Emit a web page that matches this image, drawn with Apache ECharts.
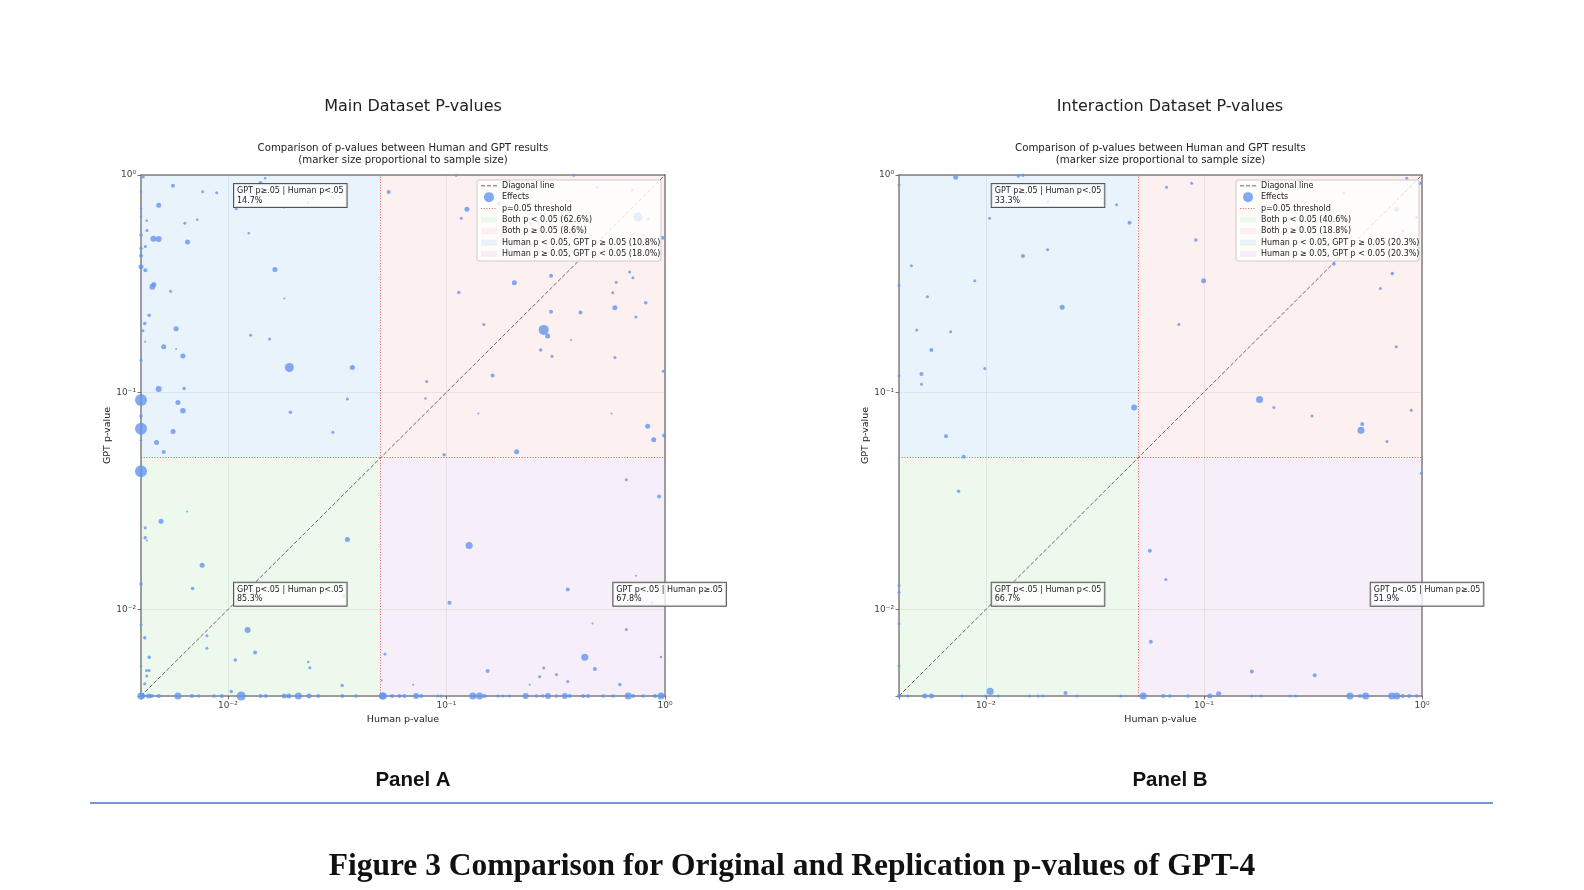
<!DOCTYPE html>
<html><head><meta charset="utf-8">
<script src="https://cdn.jsdelivr.net/npm/echarts@6/dist/echarts.min.js"></script>
<style>html,body{margin:0;padding:0;background:#fff}#c{width:1584px;height:890px}</style>
</head><body><div id="c"></div>
<script>
// ---------------- data ----------------
const P_THRESHOLD = 0.05;
const AXIS_MIN = 0.004, AXIS_MAX = 1;
const tickValues = [0.01, 0.1, 1];
const tickLabels = ['10⁻²', '10⁻¹', '10⁰'];

const panelTitles = ['Main Dataset P-values', 'Interaction Dataset P-values'];
const subTitle = 'Comparison of p-values between Human and GPT results\n(marker size proportional to sample size)';
const panelNames = ['Panel A', 'Panel B'];
const caption = 'Figure 3 Comparison for Original and Replication p-values of GPT-4';

// [human p, GPT p, sample size]
const mainPoints = [
[0.0041,0.979,36],[0.0056,0.893,64],[0.00766,0.838,36],[0.00888,0.829,36],[0.0141,0.919,64],[0.0148,0.966,25],
[0.00482,0.726,100],[0.0109,0.700,36],[0.0181,0.712,36],[0.0233,0.749,36],[0.0245,0.781,36],[0.0301,0.789,36],
[0.00425,0.616,25],[0.00635,0.599,36],[0.00723,0.622,25],[0.00426,0.556,36],[0.004,0.529,49],[0.00456,0.509,144],
[0.00482,0.507,144],[0.01245,0.540,25],[0.00653,0.491,100],[0.004,0.459,49],[0.00419,0.469,36],[0.004,0.425,64],
[0.004,0.378,100],[0.00419,0.364,64],[0.0164,0.367,100],[0.00458,0.313,100],[0.00451,0.306,144],[0.00546,0.292,36],
[0.0181,0.270,16],[0.00436,0.226,49],[0.00416,0.207,49],[0.00408,0.192,36],[0.00579,0.196,100],[0.00418,0.171,16],
[0.0127,0.183,36],[0.0155,0.176,36],[0.00508,0.162,100],[0.00579,0.158,16],[0.00622,0.147,100],[0.0191,0.130,324],
[0.0371,0.130,100],[0.004,0.1404,36],[0.00482,0.1036,144],[0.0063,0.104,49],[0.004,0.0922,576],[0.0059,0.0897,100],
[0.0352,0.0931,36],[0.00622,0.0823,121],[0.0193,0.0809,49],[0.004,0.0778,49],[0.004,0.068,576],[0.00561,0.0659,100],
[0.0302,0.0654,36],[0.00471,0.0588,100],[0.00508,0.0531,64],[0.004,0.838,25],[0.004,0.702,25],[0.004,0.642,25],
[0.004,0.0601,25],
[0.004,0.0433,576],[0.0065,0.0283,16],[0.00494,0.0255,100],[0.00418,0.0238,36],[0.00418,0.0214,49],[0.00426,0.0208,16],
[0.0352,0.0210,100],[0.00762,0.016,100],[0.004,0.0131,49],[0.00689,0.0125,49],[0.0338,0.01156,49],[0.004,0.0085,36],
[0.00416,0.00741,49],[0.0123,0.00806,144],[0.00801,0.00757,36],[0.00801,0.00664,36],[0.0133,0.00634,64],[0.00436,0.00603,49],
[0.0108,0.00586,49],[0.0233,0.00574,25],[0.0237,0.0054,36],[0.00424,0.00524,36],[0.00436,0.00524,36],[0.004,0.00548,25],
[0.00425,0.00495,36],[0.00416,0.00455,36],[0.0333,0.00447,49],[0.01035,0.0042,49],[0.0505,0.00471,16],
[0.004,0.004,200],[0.00407,0.004,100],[0.00434,0.004,100],[0.00448,0.004,64],[0.00482,0.004,64],[0.0059,0.004,200],
[0.00684,0.004,64],[0.00736,0.004,49],[0.00863,0.004,49],[0.00938,0.004,64],[0.0115,0.004,324],[0.0141,0.004,64],
[0.0149,0.004,64],[0.0181,0.004,100],[0.0190,0.004,100],[0.0210,0.004,200],[0.0235,0.004,100],[0.0259,0.004,64],
[0.0334,0.004,64],[0.0385,0.004,49],[0.0509,0.004,200],
[0.0544,0.835,64],[0.1108,0.997,36],[0.3825,0.997,36],[0.124,0.695,100],[0.1168,0.632,36],[0.1745,0.741,64],
[0.752,0.640,324],[0.489,0.878,36],[0.708,0.853,36],[0.838,0.627,36],[0.976,0.514,64],[0.795,0.529,25],
[0.243,0.597,49],[0.301,0.3435,64],[0.2045,0.319,100],[0.1139,0.288,49],[0.689,0.358,36],[0.713,0.3364,36],
[0.598,0.321,36],[0.577,0.287,36],[0.816,0.258,49],[0.301,0.2345,64],[0.4105,0.233,64],[0.590,0.2446,100],
[0.1483,0.205,36],[0.2786,0.1937,400],[0.2905,0.1817,100],[0.736,0.2223,36],[0.3716,0.1738,16],[0.270,0.1567,49],
[0.304,0.1465,36],[0.590,0.1444,36],[0.982,0.125,36],[0.1626,0.1194,64],[0.0812,0.112,36],[0.0801,0.0935,25],
[0.140,0.0798,16],[0.569,0.0798,16],[0.833,0.0697,100],[0.888,0.0605,100],[0.99,0.0633,64],[0.0976,0.0516,49],
[0.2094,0.0533,100],
[0.665,0.0396,36],[0.939,0.0331,64],[0.127,0.0197,200],[0.736,0.0143,16],[0.359,0.01236,64],[0.1032,0.01074,64],
[0.872,0.0108,36],[0.466,0.00862,16],[0.665,0.00809,36],[0.0523,0.00625,36],[0.4296,0.00603,200],[0.959,0.00605,25],
[0.1542,0.00522,64],[0.2786,0.00538,36],[0.267,0.0049,36],[0.3186,0.00503,36],[0.4775,0.00533,64],[0.359,0.00467,36],
[0.0704,0.00451,16],[0.2403,0.00451,16],[0.6217,0.00452,49],
[0.0514,0.004,200],[0.0564,0.004,64],[0.0609,0.004,64],[0.0642,0.004,64],[0.0726,0.004,144],[0.0766,0.004,64],
[0.0912,0.004,36],[0.0946,0.004,36],[0.132,0.004,200],[0.1417,0.004,200],[0.1494,0.004,64],[0.1719,0.004,36],
[0.1813,0.004,36],[0.1945,0.004,36],[0.2304,0.004,144],[0.2579,0.004,49],[0.2764,0.004,49],[0.2915,0.004,144],
[0.3186,0.004,49],[0.3477,0.004,144],[0.3666,0.004,64],[0.4218,0.004,64],[0.4447,0.004,64],[0.521,0.004,49],
[0.579,0.004,49],[0.679,0.004,200],[0.7155,0.004,64],[0.795,0.004,49],[0.90,0.004,64],[0.959,0.004,200]
];

const interactionPoints = [
[0.004,0.899,36],[0.00728,0.976,100],[0.0141,0.99,49],[0.0148,0.997,49],[0.0156,0.881,49],[0.0192,0.753,36],
[0.0104,0.632,36],[0.0398,0.730,36],[0.0456,0.603,64],[0.00456,0.382,36],[0.004,0.310,36],[0.0148,0.4233,64],
[0.0192,0.453,36],[0.0089,0.326,36],[0.0054,0.275,36],[0.0224,0.2465,100],[0.00482,0.1937,36],[0.0069,0.1897,36],
[0.00563,0.1567,64],[0.0099,0.1286,36],[0.00507,0.1214,64],[0.004,0.119,36],[0.00507,0.1088,36],[0.0479,0.085,144],
[0.00657,0.0627,64],[0.00793,0.0505,64],
[0.0674,0.878,36],[0.0878,0.916,36],[0.0919,0.502,49],[0.0997,0.326,100],[0.0768,0.205,36],[0.851,0.966,36],
[0.979,0.916,49],[0.4375,0.826,36],[0.7653,0.695,100],[0.946,0.638,36],[0.816,0.554,36],[0.3948,0.389,49],
[0.731,0.352,49],[0.644,0.3006,36],[0.762,0.162,36],[0.180,0.0926,200],[0.2094,0.085,36],[0.313,0.0778,36],
[0.532,0.0714,64],[0.525,0.0668,200],[0.893,0.0826,36],[0.691,0.0593,36],
[0.0075,0.035,49],[0.004,0.0129,36],[0.004,0.012,36],[0.004,0.0086,36],[0.004,0.0055,36],[0.0112,0.0106,36],
[0.004,0.004,64],[0.0044,0.004,36],[0.00525,0.004,100],[0.00563,0.004,100],[0.00778,0.004,36],[0.0099,0.004,36],
[0.01047,0.0042,200],[0.01138,0.004,36],[0.0159,0.004,36],[0.0174,0.004,36],[0.0183,0.004,36],[0.0232,0.00413,64],
[0.0261,0.004,36],[0.0415,0.004,36],
[0.0527,0.004,200],[0.993,0.0424,36],[0.0565,0.01865,64],[0.0669,0.01375,36],[0.0571,0.0071,64],[0.166,0.00518,64],
[0.322,0.00498,64],[0.0651,0.004,64],[0.0698,0.004,49],[0.0847,0.004,49],[0.1065,0.004,100],[0.1168,0.0041,100],
[0.1655,0.004,36],[0.1826,0.004,36],[0.248,0.004,36],[0.2634,0.004,36],[0.4674,0.004,200],[0.5195,0.004,64],
[0.5516,0.004,200],[0.7261,0.004,200],[0.7653,0.004,200],[0.816,0.004,64],[0.8744,0.004,64],[0.946,0.004,49]
];

const mainLegendPct = ['62.6%', '8.6%', '10.8%', '18.0%'];
const interLegendPct = ['40.6%', '18.8%', '20.3%', '20.3%'];
const mainAnnotPct = ['14.7%', '85.3%', '67.8%'];
const interAnnotPct = ['33.3%', '66.7%', '51.9%'];

// ---------------- styling / layout ----------------
const FONT = '"DejaVu Sans", sans-serif';
const COLORS = {
  point: '#6495ED',
  bothSig: 'rgba(223,245,223,0.6)',
  bothNs: 'rgba(252,230,230,0.6)',
  humanOnly: 'rgba(217,235,250,0.6)',
  gptOnly: 'rgba(240,227,243,0.6)',
  threshold: 'rgba(225,50,50,0.8)',
  diag: 'rgba(70,70,70,0.8)'
};
const panels = [
  { grid: {left: 141, top: 175, width: 524, height: 521}, titleX: 413, subX: 403,
    legend: {x: 477, y: 180, w: 184, h: 81}, annots: [[234, 184], [234, 582.7], [613.3, 582.7]],
    points: mainPoints, pct: mainLegendPct, annotPct: mainAnnotPct },
  { grid: {left: 899, top: 175, width: 523, height: 521}, titleX: 1170, subX: 1160.5,
    legend: {x: 1236, y: 180, w: 183, h: 81}, annots: [[991.7, 184], [991.7, 582.7], [1370.7, 582.7]],
    points: interactionPoints, pct: interLegendPct, annotPct: interAnnotPct }
];

function tickFmt(v) {
  for (let i = 0; i < tickValues.length; i++) {
    if (Math.abs(Math.log10(v) - Math.log10(tickValues[i])) < 1e-6) return tickLabels[i];
  }
  return '';
}

function axisDef(dim, gridIndex, position, main) {
  const a = {
    type: 'log', logBase: 10, gridIndex, position, min: AXIS_MIN, max: AXIS_MAX, z: 2,
    axisLine: {show: true, onZero: false, lineStyle: {color: '#808080', width: 1.5}},
    axisTick: {show: main, length: 3.5, lineStyle: {color: '#555', width: 0.8}},
    axisLabel: {show: main, fontSize: 9, color: '#444', fontFamily: FONT, margin: 5, formatter: tickFmt},
    splitLine: {show: main, lineStyle: {color: 'rgba(0,0,0,0.08)', width: 0.8}},
    minorTick: {show: false}, minorSplitLine: {show: false},
    nameLocation: 'middle',
    nameTextStyle: {fontSize: 9.5, color: '#222', fontFamily: FONT}
  };
  if (main) {
    if (dim === 'x') { a.name = 'Human p-value'; a.nameGap = 16; }
    else { a.name = 'GPT p-value'; a.nameGap = 25; a.nameRotate = 90; }
  }
  return a;
}

const grids = [], xAxes = [], yAxes = [], series = [], graphics = [];

panels.forEach((p, i) => {
  grids.push(Object.assign({containLabel: false, outerBoundsMode: 'none'}, p.grid));
  const xi = xAxes.length, yi = yAxes.length;
  xAxes.push(axisDef('x', i, 'bottom', true), axisDef('x', i, 'top', false));
  yAxes.push(axisDef('y', i, 'left', true), axisDef('y', i, 'right', false));

  // quadrant shading
  series.push({
    type: 'line', name: 'quadrants', xAxisIndex: xi, yAxisIndex: yi, data: [], silent: true, z: 1,
    markArea: {
      silent: true, z: 1,
      data: [
        [{xAxis: AXIS_MIN, yAxis: AXIS_MIN, itemStyle: {color: COLORS.bothSig}}, {xAxis: P_THRESHOLD, yAxis: P_THRESHOLD}],
        [{xAxis: P_THRESHOLD, yAxis: P_THRESHOLD, itemStyle: {color: COLORS.bothNs}}, {xAxis: AXIS_MAX, yAxis: AXIS_MAX}],
        [{xAxis: AXIS_MIN, yAxis: P_THRESHOLD, itemStyle: {color: COLORS.humanOnly}}, {xAxis: P_THRESHOLD, yAxis: AXIS_MAX}],
        [{xAxis: P_THRESHOLD, yAxis: AXIS_MIN, itemStyle: {color: COLORS.gptOnly}}, {xAxis: AXIS_MAX, yAxis: P_THRESHOLD}]
      ]
    }
  });
  // threshold lines
  series.push({
    type: 'line', name: 'p=0.05 threshold', xAxisIndex: xi, yAxisIndex: yi, data: [], silent: true, z: 3,
    markLine: {
      silent: true, symbol: ['none', 'none'], label: {show: false}, z: 3,
      lineStyle: {type: [1, 1.7], color: COLORS.threshold, width: 1},
      emphasis: {disabled: true},
      data: [{xAxis: P_THRESHOLD}, {yAxis: P_THRESHOLD}]
    }
  });
  // diagonal
  series.push({
    type: 'line', name: 'Diagonal line', xAxisIndex: xi, yAxisIndex: yi, z: 4, silent: true,
    data: [[AXIS_MIN, AXIS_MIN], [AXIS_MAX, AXIS_MAX]], showSymbol: false, symbol: 'none',
    lineStyle: {type: [4, 2], color: COLORS.diag, width: 1}
  });
  // effects
  series.push({
    type: 'scatter', name: 'Effects', xAxisIndex: xi, yAxisIndex: yi, z: 6, clip: false,
    data: p.points, symbolSize: v => Math.sqrt(v[2]) * 0.5,
    itemStyle: {color: COLORS.point, opacity: 0.8}
  });

  // titles
  graphics.push({type: 'text', x: p.titleX, y: 107, z: 20, style: {text: panelTitles[i], fontSize: 16, fontFamily: FONT, fill: '#222', align: 'center', verticalAlign: 'middle', textAlign: 'center', textVerticalAlign: 'middle'}});
  graphics.push({type: 'text', x: p.subX, y: 154.5, z: 20, style: {text: subTitle, fontSize: 10.2, lineHeight: 11.5, fontFamily: FONT, fill: '#222', align: 'center', verticalAlign: 'middle', textAlign: 'center', textVerticalAlign: 'middle'}});
  graphics.push({type: 'text', x: p.titleX, y: 780, z: 20, style: {text: panelNames[i], fontSize: 20.5, fontWeight: 'bold', fontFamily: '"Liberation Sans", Arial, sans-serif', fill: '#111', align: 'center', verticalAlign: 'middle', textAlign: 'center', textVerticalAlign: 'middle'}});

  // annotation boxes
  const annotTexts = [
    'GPT p≥.05 | Human p<.05\n' + p.annotPct[0],
    'GPT p<.05 | Human p<.05\n' + p.annotPct[1],
    'GPT p<.05 | Human p≥.05\n' + p.annotPct[2]
  ];
  annotTexts.forEach((t, k) => {
    graphics.push({type: 'text', x: p.annots[k][0], y: p.annots[k][1], z: 30,
      style: {text: t, fontSize: 8, lineHeight: 9.3, fontFamily: FONT, fill: '#222',
        backgroundColor: 'rgba(255,255,255,0.8)', borderColor: '#555', borderWidth: 1, padding: [2.5, 3, 2, 3]}});
  });

  // legend
  const L = p.legend, rowH = 11.35, y0 = L.y + 5.8, sx = L.x + 4, sw = 16, tx = L.x + 25;
  graphics.push({type: 'rect', z: 30, shape: {x: L.x, y: L.y, width: L.w, height: L.h, r: 2},
    style: {fill: 'rgba(255,255,255,0.8)', stroke: '#cccccc', lineWidth: 1}});
  const labels = ['Diagonal line', 'Effects', 'p=0.05 threshold',
    'Both p < 0.05 (' + p.pct[0] + ')', 'Both p ≥ 0.05 (' + p.pct[1] + ')',
    'Human p < 0.05, GPT p ≥ 0.05 (' + p.pct[2] + ')', 'Human p ≥ 0.05, GPT p < 0.05 (' + p.pct[3] + ')'];
  const patchColors = [COLORS.bothSig, COLORS.bothNs, COLORS.humanOnly, COLORS.gptOnly];
  labels.forEach((lab, k) => {
    const cy = y0 + k * rowH;
    if (k === 0) graphics.push({type: 'line', z: 31, shape: {x1: sx, y1: cy, x2: sx + sw, y2: cy}, style: {stroke: COLORS.diag, lineWidth: 1, lineDash: [4, 2]}});
    else if (k === 1) graphics.push({type: 'circle', z: 31, shape: {cx: sx + sw / 2, cy: cy, r: 5}, style: {fill: COLORS.point, opacity: 0.8}});
    else if (k === 2) graphics.push({type: 'line', z: 31, shape: {x1: sx, y1: cy, x2: sx + sw, y2: cy}, style: {stroke: COLORS.threshold, lineWidth: 1, lineDash: [1, 1.7]}});
    else graphics.push({type: 'rect', z: 31, shape: {x: sx, y: cy - 3, width: sw, height: 6}, style: {fill: patchColors[k - 3]}});
    graphics.push({type: 'text', z: 31, x: tx, y: cy, style: {text: lab, fontSize: 8, fontFamily: FONT, fill: '#222', align: 'left', verticalAlign: 'middle', textAlign: 'left', textVerticalAlign: 'middle'}});
  });
});

graphics.push({type: 'line', z: 20, shape: {x1: 90, y1: 803, x2: 1493, y2: 803}, style: {stroke: '#4472C4', lineWidth: 1.5}});
graphics.push({type: 'text', x: 792, y: 867, z: 20, style: {text: caption, fontSize: 31.5, fontWeight: 'bold', fontFamily: '"Liberation Serif", "Times New Roman", serif', fill: '#111', align: 'center', verticalAlign: 'middle', textAlign: 'center', textVerticalAlign: 'middle'}});

const chart = echarts.init(document.getElementById('c'), null, {renderer: 'canvas', width: 1584, height: 890});
chart.setOption({
  animation: false,
  backgroundColor: '#ffffff',
  grid: grids,
  xAxis: xAxes,
  yAxis: yAxes,
  series: series,
  graphic: {elements: graphics},
  tooltip: {show: false}
});
</script>
</body></html>
